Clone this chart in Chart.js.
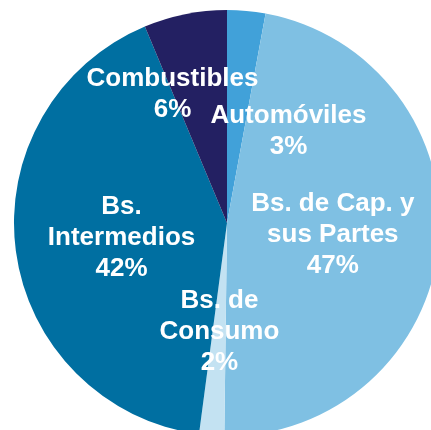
<!DOCTYPE html>
<html>
<head>
<meta charset="utf-8">
<script src="https://cdn.jsdelivr.net/npm/chart.js@4"></script>
<style>
  html, body { margin: 0; padding: 0; background: #fff; overflow: hidden; }
  #wrap { position: absolute; left: 0; top: 0; }
</style>
</head>
<body>
<div id="wrap"><canvas id="importsPie" width="454" height="446"></canvas></div>
<script>
// slice shares (clockwise from 12 o'clock)
const categories = ["Automóviles", "Bs. de Cap. y sus Partes", "Bs. de Consumo", "Bs. Intermedios", "Combustibles"];
const shares = [2.9, 47.3, 1.9, 41.6, 6.3];
const pctLabels = ["3%", "47%", "2%", "42%", "6%"];
const nameLines = [["Automóviles"], ["Bs. de Cap. y", "sus Partes"], ["Bs. de", "Consumo"], ["Bs.", "Intermedios"], ["Combustibles"]];

const sliceColors = ["#41a1d9", "#7fc0e3", "#c3e2f2", "#006fa1", "#232062"];
// where each label sits: angle in degrees clockwise from top, distance as fraction of radius
const labelAnchors = [
  { angle: 33.7, dist: 0.52 },
  { angle: 96.5, dist: 0.50 },
  { angle: 184, dist: 0.51 },
  { angle: 262, dist: 0.50 },
  { angle: -23, dist: 0.655 }
];

const sliceLabels = {
  id: "sliceLabels",
  afterDatasetsDraw(chart) {
    const ctx = chart.ctx;
    const arcs = chart.getDatasetMeta(0).data;
    if (!arcs.length) return;
    const cx = arcs[0].x;
    const cy = arcs[0].y;
    const r = arcs[0].outerRadius;
    const lineH = 31;
    ctx.save();
    ctx.fillStyle = "#ffffff";
    ctx.font = "bold 26px 'Liberation Sans', Arial, sans-serif";
    ctx.textAlign = "center";
    ctx.textBaseline = "middle";
    arcs.forEach((arc, i) => {
      const a = labelAnchors[i].angle * Math.PI / 180;
      const x = cx + Math.sin(a) * r * labelAnchors[i].dist;
      const y = cy - Math.cos(a) * r * labelAnchors[i].dist;
      const lines = nameLines[i].concat([pctLabels[i]]);
      const top = y - (lines.length - 1) * lineH / 2;
      lines.forEach((t, k) => {
        ctx.fillText(t, x, top + k * lineH);
      });
    });
    ctx.restore();
  }
};

const ctx = document.getElementById("importsPie");

const importsPie = new Chart(ctx, {
  type: "pie",
  data: {
    labels: categories,
    datasets: [
      {
        data: shares,
        backgroundColor: sliceColors,
        borderWidth: 0
      }
    ]
  },
  options: {
    responsive: false,
    animation: false,
    layout: {
      padding: 10
    },
    plugins: {
      legend: { display: false },
      tooltip: { enabled: false }
    },
    events: []
  },
  plugins: [sliceLabels]
});
</script>
</body>
</html>
